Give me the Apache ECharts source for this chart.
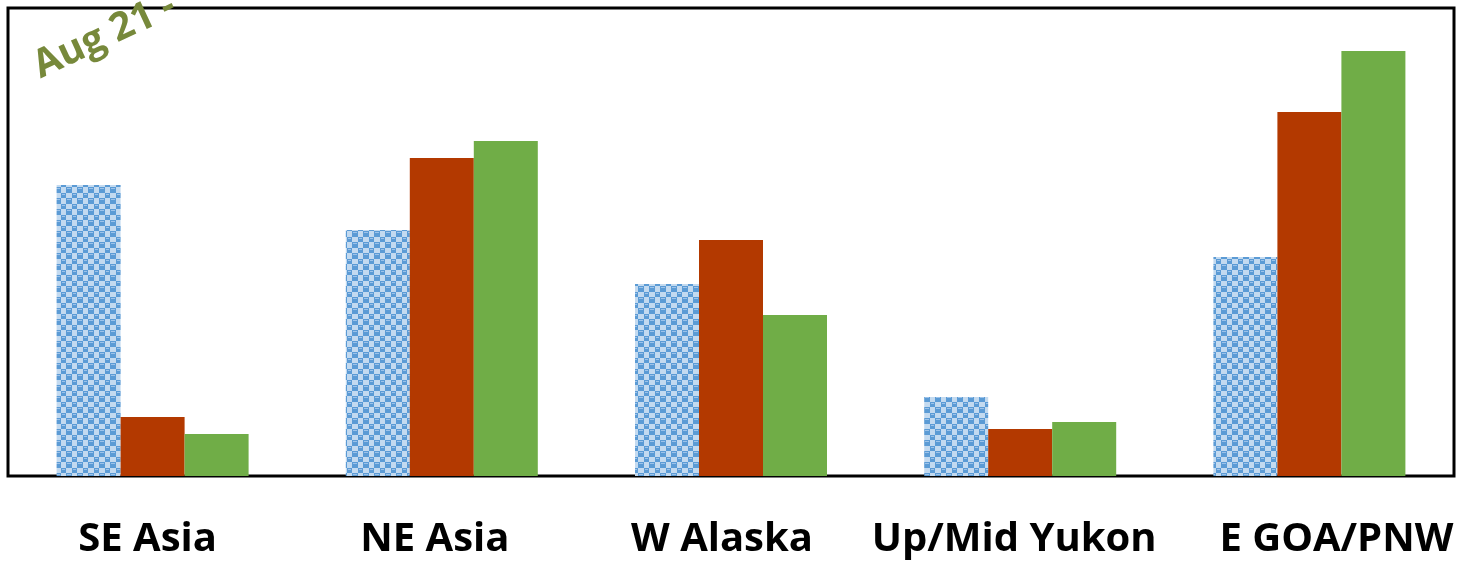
<!DOCTYPE html>
<html><head><meta charset="utf-8">
<script src="https://cdn.jsdelivr.net/npm/echarts@6/dist/echarts.min.js"></script>
<style>html,body{margin:0;padding:0;background:#fff}#c{width:1461px;height:562px}</style>
</head><body><div id="c"></div>
<script>
const categories = ['SE Asia', 'NE Asia', 'W Alaska', 'Up/Mid Yukon', 'E GOA/PNW'];
const seriesA = [291, 246, 192, 79, 219];
const seriesB = [59, 318, 236, 47, 364];
const seriesC = [42, 335, 161, 54, 425];
const yMax = 468;

// label horizontal nudges (styling only)
const labelShift = [-5, -7, -9, -6, 27];

function makePattern() {
  const c = document.createElement('canvas');
  c.width = 11; c.height = 11;
  const g = c.getContext('2d');
  g.fillStyle = '#c3daf0'; g.fillRect(0, 0, 11, 11);
  g.fillStyle = '#5b9bd5';
  g.fillRect(0, 0, 6, 6); g.fillRect(6, 6, 5, 5);
  g.fillStyle = '#9dc3ea';
  g.fillRect(1, 1, 4, 1); g.fillRect(7, 7, 3, 1);
  return c;
}

const axisData = categories.map((name, i) => {
  const s = labelShift[i];
  return { value: name, textStyle: { padding: s >= 0 ? [0, 0, 0, 2 * s] : [0, -2 * s, 0, 0] } };
});

const chart = echarts.init(document.getElementById('c'));
chart.setOption({
  animation: false,
  grid: { left: 8, right: 7, top: 8, bottom: 86, show: true, borderColor: '#000', borderWidth: 3, backgroundColor: 'transparent' },
  xAxis: {
    type: 'category', data: axisData,
    axisLine: { show: false }, axisTick: { show: false },
    axisLabel: { interval: 0, margin: 44, fontSize: 40, fontWeight: 'bold', color: '#000', fontFamily: 'Open Sans' }
  },
  yAxis: { type: 'value', min: 0, max: yMax, show: false, splitLine: { show: false } },
  series: [
    { type: 'bar', data: seriesA, barWidth: 64, barGap: '0%', itemStyle: { color: { image: makePattern(), repeat: 'repeat' } } },
    { type: 'bar', data: seriesB, barWidth: 64, barGap: '0%', itemStyle: { color: '#b33900' } },
    { type: 'bar', data: seriesC, barWidth: 64, barGap: '0%', itemStyle: { color: '#70ad47' } }
  ],
  graphic: [{
    type: 'text', x: 44, y: 86, rotation: 25 * Math.PI / 180,
    style: { text: 'Aug 21 -', fontSize: 39, fontWeight: 'bold', fill: '#77893b', fontFamily: 'Open Sans', textVerticalAlign: 'bottom' }
  }]
});
</script></body></html>
